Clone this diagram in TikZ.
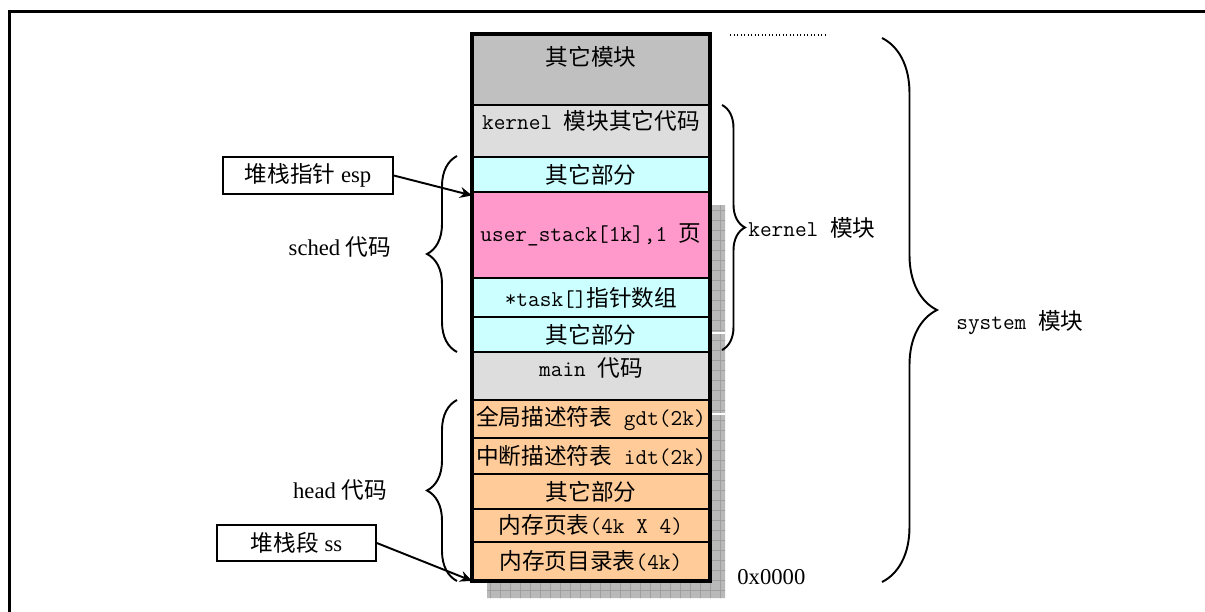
\documentclass[tikz,border=0pt]{standalone}
\usepackage{fontspec}
\setmainfont{Liberation Serif}
\newfontfamily\hanfont{Noto Sans CJK SC}
\usetikzlibrary{arrows.meta, positioning}
\usetikzlibrary{decorations.pathreplacing}
\definecolor{blockGray}{RGB}{192,192,192}
\definecolor{codeGray}{RGB}{221,221,221}
\definecolor{partCyan}{RGB}{204,255,255}
\definecolor{stackPink}{RGB}{255,153,204}
\definecolor{headOrange}{RGB}{255,204,153}
\colorlet{shadowGray}{gray!55}
\newcommand{\zhtext}[1]{{\hanfont #1}}
\newcommand{\mtext}[1]{{\ttfamily #1}}
\tikzset{
    cell/.style={draw, line width=1.1pt, minimum width=4.76cm, inner sep=0pt, outer sep=0pt},
    tag/.style={draw, line width=0.9pt, inner sep=0pt},
    ptr/.style={-{Stealth[length=2.4mm, width=2.2mm]}, line width=1.1pt},
    curly/.style={decorate, decoration={brace, amplitude=#1}, line width=1.1pt},
    lbl/.style={inner sep=0pt}
}

\begin{document}
\begin{tikzpicture}[x=0.02cm, y=-0.02cm, node distance=0pt,
                    font=\fontsize{12.9}{15}\selectfont]
    \useasboundingbox (0,0) rectangle (1205,612);

    % Frame round the whole picture
    \draw[line width=1.7pt] (9.5,612) -- (9.5,11.5) -- (1205,11.5);

    % Shadow behind the memory column
    \begin{scope}
        \clip (712,205) rectangle (725,598) (487,582) rectangle (725,598);
        \fill[shadowGray] (480,200) rectangle (730,600);
        \draw[gray!75, line width=0.3pt, step=0.2cm] (480,200) grid (730,600);
        \draw[white, line width=0.8pt] (712,333) -- (725,333) (712,414) -- (725,414);
    \end{scope}

    % Memory column, top to bottom
    \node[cell, fill=blockGray, minimum height=1.42cm, text height=0.64cm, text depth=0.78cm,
          anchor=north] (blk-other) at (591,34) {\zhtext{其它模块}};
    \node[cell, fill=codeGray, minimum height=1.04cm, text height=0.5cm, text depth=0.54cm,
          below=of blk-other] (blk-kernel) {\mtext{kernel }\zhtext{模块其它代码}};
    \node[cell, fill=partCyan, minimum height=0.70cm, below=of blk-kernel] (blk-schedA) {\zhtext{其它部分}};
    \node[cell, fill=stackPink, minimum height=1.72cm, below=of blk-schedA] (blk-ustack) {\mtext{user\_stack[1k],1 }\zhtext{页}};
    \node[cell, fill=partCyan, minimum height=0.78cm, below=of blk-ustack] (blk-task) {\mtext{*task[]}\zhtext{指针数组}};
    \node[cell, fill=partCyan, minimum height=0.70cm, below=of blk-task] (blk-schedB) {\zhtext{其它部分}};
    \node[cell, fill=codeGray, minimum height=0.96cm, text height=0.50cm, text depth=0.46cm,
          below=of blk-schedB] (blk-main) {\mtext{main }\zhtext{代码}};
    \node[cell, fill=headOrange, minimum height=0.76cm, below=of blk-main] (blk-gdt) {\zhtext{全局描述符表}\mtext{ gdt(2k)}};
    \node[cell, fill=headOrange, minimum height=0.72cm, below=of blk-gdt] (blk-idt) {\zhtext{中断描述符表}\mtext{ idt(2k)}};
    \node[cell, fill=headOrange, minimum height=0.70cm, below=of blk-idt] (blk-headA) {\zhtext{其它部分}};
    \node[cell, fill=headOrange, minimum height=0.66cm, below=of blk-headA] (blk-pgtbl) {\zhtext{内存页表}\mtext{(4k X 4)}};
    \node[cell, fill=headOrange, minimum height=0.78cm, below=of blk-pgtbl] (blk-pgdir) {\zhtext{内存页目录表}\mtext{(4k)}};
    \draw[line width=2.4pt] (blk-other.north west) rectangle (blk-pgdir.south east);

    % Pointer boxes on the left
    \node[tag, minimum width=3.4cm, minimum height=0.74cm] (espTag) at (308,175.5) {\zhtext{堆栈指针} esp};
    \node[tag, minimum width=3.18cm, minimum height=0.72cm] (ssTag) at (296.5,543) {\zhtext{堆栈段} ss};
    \draw[ptr] (espTag.east) -- ([yshift=-2pt]blk-ustack.north west);
    \draw[ptr] (ssTag.east) -- (blk-pgdir.south west);

    % Braces
    \draw[curly=0.6cm] (457,352) -- (457,156);
    \draw[curly=0.6cm] (457,581) -- (457,400);
    \draw[curly=0.46cm] (722,105) -- (722,350);
    \draw[curly=1.1cm] (882,38) -- (882,582);

    \node (schedLbl) at (340,247) {sched \zhtext{代码}};
    \node (headLbl) at (340,490) {head \zhtext{代码}};
    \node[lbl, anchor=west] (kernelLbl) at (748,228) {\mtext{kernel }\zhtext{模块}};
    \node[lbl, anchor=west] (systemLbl) at (956,323) {\mtext{system }\zhtext{模块}};
    \node[lbl, anchor=west] (baseLbl) at (737,577) {0x0000};

    % Dotted mark above the column
    \draw[line width=0.6pt, dash pattern=on 0.6pt off 1.4pt] (730,35) -- (828,35);
\end{tikzpicture}
\end{document}
